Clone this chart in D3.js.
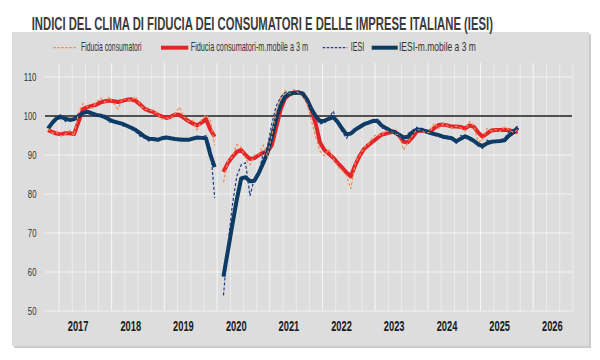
<!DOCTYPE html>
<html><head><meta charset="utf-8">
<script src="https://cdn.jsdelivr.net/npm/d3@7"></script>
<style>html,body{margin:0;padding:0;background:#fff;} svg{display:block;font-family:"Liberation Sans",Arial,sans-serif;}</style>
</head><body><svg id="c" width="600" height="360"></svg>
<script>
// ---------- DATA ----------
const title = "INDICI DEL CLIMA DI FIDUCIA DEI CONSUMATORI E DELLE IMPRESE ITALIANE (IESI)";
const yearLabels = [2017, 2018, 2019, 2020, 2021, 2022, 2023, 2024, 2025, 2026];
const yTicks = [50, 60, 70, 80, 90, 100, 110];
const seriesNames = ["Fiducia consumatori", "Fiducia consumatori-m.mobile a 3 m", "IESI", "IESI-m.mobile a 3 m"];
const firstYear = 2017; // monthly data from January 2017

const consumatori = [
  96.8, 95.6, 95.8, 94.9, 95.4, 96.3, 95.0, 101.0, 103.2, 102.4, 102.0, 103.4,
  104.6, 103.5, 104.8, 103.3, 101.8, 104.5, 104.2, 104.0, 105.0, 102.8, 101.8, 101.6,
  101.2, 100.5, 99.2, 99.6, 99.3, 100.6, 102.3, 99.8, 98.6, 98.9, 96.5, 99.0,
  100.3, 98.8, 92.5, null, 83.0, 88.5, 89.5, 92.7, 92.0, 89.0, 87.5, 90.0,
  90.2, 92.5, 89.8, 95.0, 101.0, 104.5, 106.5, 105.8, 106.8, 106.0, 105.0, 103.2,
  98.8, 94.5, 91.0, 89.8, 91.5, 89.0, 87.2, 86.0, 84.8, 81.3, 88.0, 89.8,
  92.0, 92.8, 94.6, 95.3, 95.0, 96.2, 96.0, 95.5, 95.2, 91.3, 93.3, 95.0,
  96.5, 96.4, 95.7, 95.8, 98.2, 96.8, 98.0, 97.5, 96.9, 97.4, 97.0, 96.2,
  98.6, 97.5, 93.4, 93.8, 96.8, 96.2, 96.5, 96.0, 97.2, 96.5, 95.8, 96.5
];
const consumatoriMM = [
  96.4, 95.9, 95.5, 95.3, 95.6, 95.6, 95.4, 98.6, 101.8, 102.3, 102.6, 102.9,
  103.5, 103.8, 104.0, 103.8, 103.6, 103.9, 104.2, 104.3, 103.9, 103.0, 101.9, 101.4,
  101.0, 100.3, 99.9, 99.5, 99.8, 100.4, 100.3, 99.5, 98.7, 98.1, 97.6, 98.3,
  99.2, 96.5, 94.7, null, 85.7, 88.0, 89.5, 90.8, 91.3, 90.0, 89.0, 89.2,
  90.0, 90.6, 90.9, 92.5, 97.0, 101.6, 104.5, 105.5, 106.0, 106.1, 105.7, 104.2,
  101.5, 97.8, 93.2, 91.3, 90.3, 89.3, 88.0, 86.8, 85.5, 84.5, 87.5, 89.8,
  91.6, 92.6, 93.4, 94.3, 95.2, 95.5, 95.8, 96.0, 95.0, 93.4, 93.3, 94.5,
  96.1, 96.3, 96.1, 96.0, 96.9, 97.7, 97.8, 97.6, 97.3, 97.3, 97.2, 96.8,
  97.6, 97.2, 95.8, 94.7, 95.5, 96.3, 96.4, 96.4, 96.5, 96.4, 96.0, 96.0
];
const iesi = [
  97.2, 98.8, 99.6, 100.5, 98.6, 99.1, 99.4, 100.6, 101.0, 101.4, 100.2, 100.5,
  99.9, 100.2, 98.5, 98.4, 98.6, 97.5, 97.3, 96.7, 96.0, 94.8, 94.4, 93.6,
  94.2, 94.0, 94.6, 94.3, 94.5, 93.8, 94.0, 93.7, 94.1, 94.3, 94.8, 94.5,
  95.0, 91.8, 79.0, null, 54.0, 67.0, 77.0, 84.5, 87.5, 88.0, 79.5, 84.0,
  85.5, 90.5, 92.0, 98.0, 102.5, 104.8, 106.0, 106.2, 105.8, 106.4, 105.2, 103.8,
  101.5, 99.4, 98.0, 98.2, 99.3, 101.3, 98.0, 96.0, 94.3, 95.8, 97.0, 97.3,
  97.5, 98.6, 98.4, 99.3, 96.8, 97.0, 95.9, 96.0, 94.8, 93.8, 95.5, 96.3,
  97.1, 96.2, 96.0, 95.4, 95.6, 94.8, 94.3, 94.8, 93.9, 93.0, 95.0, 94.5,
  93.8, 93.5, 92.4, 91.7, 93.8, 93.5, 93.3, 93.8, 94.3, 96.0, 96.6, 97.4
];
const iesiMM = [
  96.8, 98.3, 99.4, 99.8, 99.3, 99.0, 99.2, 100.0, 100.8, 101.1, 100.7, 100.3,
  100.1, 99.7, 99.1, 98.6, 98.3, 98.0, 97.5, 97.0, 96.4, 95.6, 94.7, 94.2,
  94.1, 93.9, 94.3, 94.5, 94.3, 94.1, 94.0, 93.9, 93.9, 94.2, 94.5, 94.4,
  94.3, 90.0, 86.9, null, 58.8, 65.5, 72.0, 78.5, 84.0, 84.3, 83.3, 83.4,
  85.4, 88.0, 90.4, 94.7, 99.2, 102.9, 104.9, 105.7, 106.0, 106.0, 105.8, 104.2,
  101.8, 99.9, 98.7, 98.8, 99.3, 99.7, 98.5, 96.8, 95.3, 95.5, 96.5, 97.2,
  97.9, 98.3, 98.7, 98.8, 97.6, 96.9, 96.3, 95.8, 95.2, 94.5, 94.7, 95.8,
  96.5, 96.5, 96.1, 95.7, 95.4, 95.1, 94.7, 94.5, 94.3, 93.5, 94.2, 94.8,
  94.3, 93.6, 92.8, 92.3, 93.0, 93.4, 93.5, 93.6, 93.8, 95.0, 95.8, 97.0
];

// ---------- CHART ----------
const svg = d3.select("#c");
const dateOf = i => new Date(firstYear, i, 1);
const toPoints = arr => arr.map((v, i) => ({ date: dateOf(i), v }));

// squeeze text horizontally to a target width (the reference uses a condensed face)
function squeeze(sel, target) {
  sel.each(function (d) {
    const t = d3.select(this);
    const w = this.getComputedTextLength();
    const tw = typeof target === "function" ? target(d) : target;
    const s = tw / w;
    const x0 = +t.attr("x") || 0;
    t.attr("x", x0 / s).attr("transform", `scale(${s},1)`);
  });
}

// panel (with subtle shadow)
svg.append("rect").attr("x", 14).attr("y", 34).attr("width", 577).attr("height", 314).attr("fill", "#cbcbcb");
svg.append("rect").attr("x", 12).attr("y", 32).attr("width", 577).attr("height", 314).attr("fill", "#dddddd");

const x = d3.scaleTime()
  .domain([new Date(2016, 11, 11), new Date(2026, 11, 12)])
  .range([45, 572]);
const y = d3.scaleLinear().domain([50, 113.6]).range([311, 63]);

// gridlines
const grid = svg.append("g");
const quarterLines = d3.range(0, 40).map(k => new Date(firstYear, 2 + 3 * k, 18)).filter(d => x(d) <= 573);
grid.selectAll("line.v").data(quarterLines).enter().append("line")
  .attr("x1", d => x(d)).attr("x2", d => x(d))
  .attr("y1", y.range()[1]).attr("y2", y.range()[0])
  .attr("stroke", "#ffffff")
  .attr("stroke-opacity", (d, i) => i % 4 === 0 ? 0.85 : 0.5)
  .attr("stroke-width", 0.9);
grid.selectAll("line.h").data(yTicks).enter().append("line")
  .attr("x1", 45).attr("x2", 572)
  .attr("y1", d => y(d)).attr("y2", d => y(d))
  .attr("stroke", "#ffffff").attr("stroke-opacity", 0.65).attr("stroke-width", 0.9);

// reference line at 100
svg.append("line").attr("x1", 45).attr("x2", 572)
  .attr("y1", y(100)).attr("y2", y(100))
  .attr("stroke", "#1e1e1e").attr("stroke-width", 1.5);

// axes
const yAxis = svg.append("g").attr("transform", "translate(45,0)")
  .call(d3.axisLeft(y).tickValues(yTicks).tickSize(0).tickPadding(8.5).tickFormat(d3.format("d")));
yAxis.select(".domain").remove();
yAxis.selectAll("text")
  .attr("font-family", '"Liberation Sans", Arial, sans-serif')
  .attr("font-size", 10.5).attr("fill", "#333");
squeeze(yAxis.selectAll("text"), d => String(d).length === 3 ? 12.7 : 8.7);

const yearPos = yearLabels.map(yr => new Date(yr, 6, 25));
const xAxis = svg.append("g").attr("transform", "translate(0,311)")
  .call(d3.axisBottom(x).tickValues(yearPos).tickSize(0).tickFormat(d => d.getFullYear()));
xAxis.select(".domain").remove();
xAxis.selectAll("text")
  .attr("y", 20.5).attr("dy", 0)
  .attr("font-family", '"Liberation Sans", Arial, sans-serif')
  .attr("font-size", 14).attr("font-weight", "bold").attr("fill", "#1a1a1a");
squeeze(xAxis.selectAll("text"), 20.7);

// lines
const line = d3.line().defined(d => d.v != null).x(d => x(d.date)).y(d => y(d.v));
const colors = { cons: "#f08c4c", consMM: "#e3242b", iesi: "#1f3c88", iesiMM: "#0b3b5e" };

svg.append("path").attr("d", line(toPoints(consumatoriMM)))
  .attr("fill", "none").attr("stroke", colors.consMM).attr("stroke-width", 4).attr("stroke-linejoin", "round");
svg.append("path").attr("d", line(toPoints(iesiMM)))
  .attr("fill", "none").attr("stroke", colors.iesiMM).attr("stroke-width", 4).attr("stroke-linejoin", "round");
svg.append("path").attr("d", line(toPoints(consumatori)))
  .attr("fill", "none").attr("stroke", colors.cons).attr("stroke-width", 1.2).attr("stroke-dasharray", "3,2");
svg.append("path").attr("d", line(toPoints(iesi)))
  .attr("fill", "none").attr("stroke", colors.iesi).attr("stroke-width", 1.2).attr("stroke-dasharray", "3,2");

// title
const titleText = svg.append("text").attr("x", 31.7).attr("y", 30)
  .attr("font-size", 17.5).attr("font-weight", "bold").attr("fill", "#3c3c3c")
  .text(title);
squeeze(titleText, 461.6);

// legend
const legendItems = [
  { name: seriesNames[0], color: colors.cons, dashed: true,  x1: 53.3,  x2: 77.3,  tx: 81,    tw: 60.7 },
  { name: seriesNames[1], color: colors.consMM, dashed: false, x1: 161,  x2: 188.3, tx: 190.7, tw: 117.6 },
  { name: seriesNames[2], color: colors.iesi, dashed: true,  x1: 322.7, x2: 347.3, tx: 350.7, tw: 13.6 },
  { name: seriesNames[3], color: colors.iesiMM, dashed: false, x1: 371.7, x2: 397.7, tx: 399,   tw: 77 }
];
const lg = svg.append("g");
legendItems.forEach(it => {
  lg.append("line").attr("x1", it.x1).attr("x2", it.x2).attr("y1", 47.7).attr("y2", 47.7)
    .attr("stroke", it.color)
    .attr("stroke-width", it.dashed ? 1.3 : 4)
    .attr("stroke-dasharray", it.dashed ? "2.5,1.5" : null);
  const t = lg.append("text").attr("x", it.tx).attr("y", 51.5)
    .attr("font-size", 12).attr("fill", "#333")
    .text(it.name);
  squeeze(t, it.tw);
});
</script></body></html>
